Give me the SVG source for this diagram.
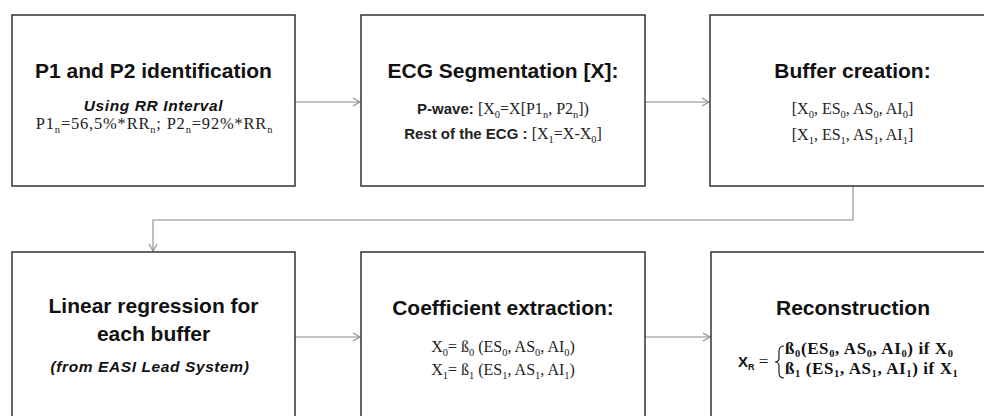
<svg xmlns="http://www.w3.org/2000/svg" width="984" height="416" viewBox="0 0 984 416">
<defs>
<style>
.box{fill:#fff;stroke:#262626;stroke-width:1.4}
.con{fill:none;stroke:#8c8c8c;stroke-width:1.1}
.t{font-family:"Liberation Sans",Arial,sans-serif;font-weight:bold;font-size:21px;fill:#111;text-anchor:middle}
.it{font-family:"Liberation Sans",Arial,sans-serif;font-weight:bold;font-style:italic;font-size:15.5px;letter-spacing:0.6px;fill:#111;text-anchor:middle}
.m{font-family:"Liberation Serif","Times New Roman",serif;font-size:16px;fill:#222;text-anchor:middle}
.mb{font-family:"Liberation Serif","Times New Roman",serif;font-size:17px;font-weight:bold;letter-spacing:0.6px;fill:#111}
.sb{font-family:"Liberation Sans",Arial,sans-serif;font-weight:bold;font-size:15px;letter-spacing:0}
.s{font-size:10.5px}
</style>
<marker id="arr" markerWidth="10" markerHeight="10" refX="8" refY="5" orient="auto" markerUnits="userSpaceOnUse">
<path d="M1,1 L8,5 L1,9" fill="none" stroke="#8c8c8c" stroke-width="1.1"/>
</marker>
</defs>
<rect width="984" height="416" fill="#fff"/>
<g id="connectors">
<line class="con" x1="295" y1="102" x2="360" y2="102" marker-end="url(#arr)"/>
<line class="con" x1="645" y1="102" x2="709" y2="102" marker-end="url(#arr)"/>
<path class="con" d="M853,186 V220 H153 V251" marker-end="url(#arr)"/>
<line class="con" x1="295" y1="337" x2="360" y2="337" marker-end="url(#arr)"/>
<line class="con" x1="645" y1="337" x2="710" y2="337" marker-end="url(#arr)"/>
</g>
<g id="node-p1p2">
<rect class="box" x="12" y="15" width="283" height="171"/>
<text class="t" x="153.5" y="78">P1 and P2 identification</text>
<text class="it" x="153.5" y="111">Using RR Interval</text>
<text class="m" x="154.5" y="129" style="font-size:16.5px;letter-spacing:0.8px">P1<tspan class="s" dy="4">n</tspan><tspan dy="-4">=56,5%*RR</tspan><tspan class="s" dy="4">n</tspan><tspan dy="-4">; P2</tspan><tspan class="s" dy="4">n</tspan><tspan dy="-4">=92%*RR</tspan><tspan class="s" dy="4">n</tspan></text>
</g>
<g id="node-segmentation">
<rect class="box" x="361" y="15" width="284" height="171"/>
<text class="t" x="503" y="78">ECG Segmentation [X]:</text>
<text class="m" x="503" y="114"><tspan class="sb">P-wave: </tspan>[X<tspan class="s" dy="4">0</tspan><tspan dy="-4">=X[P1</tspan><tspan class="s" dy="4">n</tspan><tspan dy="-4">, P2</tspan><tspan class="s" dy="4">n</tspan><tspan dy="-4">])</tspan></text>
<text class="m" x="503" y="139"><tspan class="sb">Rest of the ECG : </tspan>[X<tspan class="s" dy="4">1</tspan><tspan dy="-4">=X-X</tspan><tspan class="s" dy="4">0</tspan><tspan dy="-4">]</tspan></text>
</g>
<g id="node-buffer">
<rect class="box" x="710" y="15" width="284" height="171"/>
<text class="t" x="852.5" y="78">Buffer creation:</text>
<text class="m" x="852.5" y="114">[X<tspan class="s" dy="4">0</tspan><tspan dy="-4">, ES</tspan><tspan class="s" dy="4">0</tspan><tspan dy="-4">, AS</tspan><tspan class="s" dy="4">0</tspan><tspan dy="-4">, AI</tspan><tspan class="s" dy="4">0</tspan><tspan dy="-4">]</tspan></text>
<text class="m" x="852.5" y="140">[X<tspan class="s" dy="4">1</tspan><tspan dy="-4">, ES</tspan><tspan class="s" dy="4">1</tspan><tspan dy="-4">, AS</tspan><tspan class="s" dy="4">1</tspan><tspan dy="-4">, AI</tspan><tspan class="s" dy="4">1</tspan><tspan dy="-4">]</tspan></text>
</g>
<g id="node-regression">
<rect class="box" x="12" y="252" width="283" height="180"/>
<text class="t" x="153.5" y="313">Linear regression for</text>
<text class="t" x="153.5" y="341">each buffer</text>
<text class="it" x="150" y="372">(from EASI Lead System)</text>
</g>
<g id="node-coefficient">
<rect class="box" x="361" y="252" width="284" height="180"/>
<text class="t" x="503" y="315">Coefficient extraction:</text>
<text class="m" x="503" y="352">X<tspan class="s" dy="4">0</tspan><tspan dy="-4">= ß</tspan><tspan class="s" dy="4">0</tspan><tspan dy="-4"> (ES</tspan><tspan class="s" dy="4">0</tspan><tspan dy="-4">, AS</tspan><tspan class="s" dy="4">0</tspan><tspan dy="-4">, AI</tspan><tspan class="s" dy="4">0</tspan><tspan dy="-4">)</tspan></text>
<text class="m" x="503" y="375">X<tspan class="s" dy="4">1</tspan><tspan dy="-4">= ß</tspan><tspan class="s" dy="4">1</tspan><tspan dy="-4"> (ES</tspan><tspan class="s" dy="4">1</tspan><tspan dy="-4">, AS</tspan><tspan class="s" dy="4">1</tspan><tspan dy="-4">, AI</tspan><tspan class="s" dy="4">1</tspan><tspan dy="-4">)</tspan></text>
</g>
<g id="node-reconstruction">
<rect class="box" x="711" y="252" width="284" height="180"/>
<text class="t" x="853" y="315">Reconstruction</text>
<text x="738" y="367" style="font-family:'Liberation Sans',Arial,sans-serif;font-weight:bold;font-size:15px;fill:#111">X<tspan style="font-size:9px" dy="3">R</tspan><tspan dy="-3" style="font-family:'Liberation Serif',serif;font-weight:normal;font-size:17px"> =</tspan></text>
<path d="M784,346 Q779,346 779,351 V358 Q779,362 775,362 Q779,362 779,366 V373 Q779,378 784,378" fill="none" stroke="#222" stroke-width="1.2"/>
<text class="mb" x="785" y="354">ß<tspan class="s" dy="3">0</tspan><tspan dy="-3">(ES</tspan><tspan class="s" dy="3">0</tspan><tspan dy="-3">, AS</tspan><tspan class="s" dy="3">0</tspan><tspan dy="-3">, AI</tspan><tspan class="s" dy="3">0</tspan><tspan dy="-3">) if X</tspan><tspan class="s" dy="3">0</tspan></text>
<text class="mb" x="785" y="374">ß<tspan class="s" dy="3">1</tspan><tspan dy="-3"> (ES</tspan><tspan class="s" dy="3">1</tspan><tspan dy="-3">, AS</tspan><tspan class="s" dy="3">1</tspan><tspan dy="-3">, AI</tspan><tspan class="s" dy="3">1</tspan><tspan dy="-3">) if X</tspan><tspan class="s" dy="3">1</tspan></text>
</g>
</svg>
